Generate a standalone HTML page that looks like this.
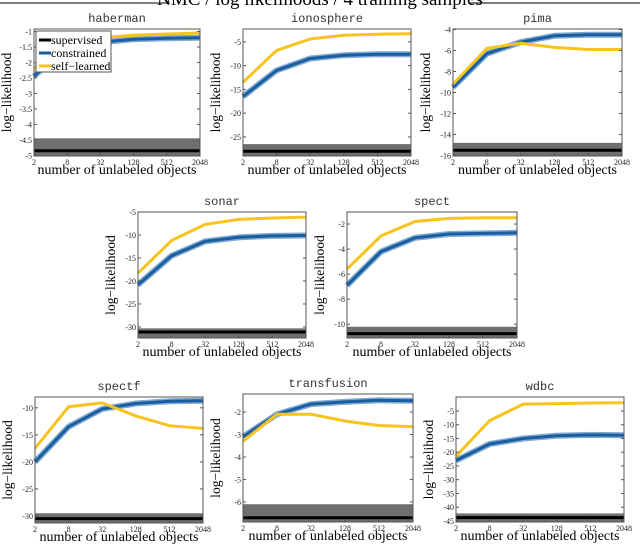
<!DOCTYPE html>
<html><head><meta charset="utf-8"><style>
body{margin:0;background:#fff;}
svg text{font-family:"Liberation Serif",serif;}
</style></head><body>
<svg id="fig" width="640" height="544" xmlns="http://www.w3.org/2000/svg">
<line x1="0" y1="3" x2="170" y2="3" stroke="#000" stroke-width="1"/>
<line x1="470" y1="3" x2="640" y2="3" stroke="#000" stroke-width="1"/>
<text x="320" y="5" font-size="19" text-anchor="middle">NMC / log likelihoods / 4 training samples</text>
</svg>
<script>
const xCats = [2, 8, 32, 128, 512, 2048];
const names = ["haberman","ionosphere","pima","sonar","spect","spectf","transfusion","wdbc"];
const supervised = [-4.85, -28, -15.5, -31.1, -10.75, -30.5, -6.7, -43.8];
const supBandTop = [-4.45, -26.5, -14.8, -30.3, -10.2, -29.5, -6.1, -42.3];
const constrained = [
 [-2.45,-1.45,-1.35,-1.25,-1.22,-1.2],
 [-16.5,-11,-8.5,-7.8,-7.6,-7.6],
 [-9.5,-6.3,-5.2,-4.6,-4.5,-4.5],
 [-20.8,-14.5,-11.4,-10.5,-10.2,-10.1],
 [-6.9,-4.2,-3.1,-2.8,-2.75,-2.7],
 [-20,-13.5,-10.2,-9.2,-8.8,-8.7],
 [-3.1,-2.1,-1.65,-1.55,-1.48,-1.5],
 [-23,-17,-15,-14,-13.7,-13.8]];
const selfLearned = [
 [-2.2,-1.3,-1.2,-1.12,-1.08,-1.05],
 [-13.5,-6.8,-4.4,-3.6,-3.4,-3.3],
 [-9.2,-5.8,-5.3,-5.7,-5.9,-5.9],
 [-18.3,-11.2,-7.7,-6.6,-6.3,-6.1],
 [-5.6,-2.95,-1.8,-1.55,-1.5,-1.5],
 [-17.5,-9.8,-9.1,-11.5,-13.3,-13.8],
 [-3.3,-2.1,-2.1,-2.4,-2.6,-2.65],
 [-21.5,-8.5,-2.5,-2.3,-2.1,-2]];
const yTicks = [
 ["-1","-1.5","-2","-2.5","-3","-3.5","-4","-4.5","-5"],
 ["-5","-10","-15","-20","-25"],
 ["-4","-6","-8","-10","-12","-14","-16"],
 ["-5","-10","-15","-20","-25","-30"],
 ["-2","-4","-6","-8","-10"],
 ["-10","-15","-20","-25","-30"],
 ["-2","-3","-4","-5","-6"],
 ["-5","-10","-15","-20","-25","-30","-35","-40","-45"]];
const yMax = [-0.92, -2.3, -3.95, -5, -1.04, -8, -1.2, 0.1];
const yMin = [-5.02, -29, -16.05, -32.4, -11.1, -31.3, -6.89, -45.4];
// panel boxes [x0,y0,x1,y1]
const boxes = [[34,29,200,156],[243,29,411,156],[453,29,622,156],[138,212,306,338],[347,212,517,338],[35,397,203,523],[243,394,413,522],[456,397,624,522]];
const NS="http://www.w3.org/2000/svg";
const svg=document.getElementById('fig');
function mk(tag,attrs,parent){const e=document.createElementNS(NS,tag);for(const k in attrs)e.setAttribute(k,attrs[k]);(parent||svg).appendChild(e);return e;}
names.forEach((nm,i)=>{
 const [x0,y0,x1,y1]=boxes[i];
 const g=mk('g',{});
 
 
 const sx=v=>x0+(Math.log(v/2)/Math.log(4))/5*(x1-x0);
 const sy=v=>y0+(yMax[i]-v)/(yMax[i]-yMin[i])*(y1-y0);
 const band=mk('rect',{x:x0,y:sy(supBandTop[i]),width:x1-x0,height:y1-sy(supBandTop[i]),fill:'#6f6f6f'},g);
 
 
 const sl=mk('line',{x1:x0,x2:x1,y1:sy(supervised[i]),y2:sy(supervised[i]),stroke:'#000','stroke-width':3},g);
 
 
 const pts=arr=>arr.map((v,j)=>sx(xCats[j]).toFixed(1)+','+sy(v).toFixed(1)).join(' ');
 const cb=mk('polyline',{points:pts(constrained[i]),fill:'none',stroke:'#7fa9d4','stroke-width':6,'stroke-linejoin':'round'},g);
 
 
 const cl=mk('polyline',{points:pts(constrained[i]),fill:'none',stroke:'#1a5e9f','stroke-width':3},g);
 
 
 const yl=mk('polyline',{points:pts(selfLearned[i]),fill:'none',stroke:'#f7c31c','stroke-width':3},g);
 
 
 const fr=mk('rect',{x:x0,y:y0,width:x1-x0,height:y1-y0,fill:'none',stroke:'#555','stroke-width':1},g);
 
 
 yTicks[i].forEach(t=>{
  const y=sy(parseFloat(t));
  mk('line',{x1:x0,x2:x0+3,y1:y,y2:y,stroke:'#555'},g);
  mk('line',{x1:x1-3,x2:x1,y1:y,y2:y,stroke:'#555'},g);
  const tt=mk('text',{x:x0-2,y:y+3,'font-size':8,'text-anchor':'end',fill:'#222'},g);
  tt.textContent=t;
  
  
 });
 xCats.forEach(c=>{
  const x=sx(c);
  mk('line',{x1:x,x2:x,y1:y1,y2:y1-3,stroke:'#555'},g);
  const tt=mk('text',{x:x,y:y1+9,'font-size':8,'text-anchor':'middle',fill:'#222'},g);
  tt.textContent=c;
  
  
 });
 const ti=mk('text',{x:(x0+x1)/2,y:y0-7,'font-size':12,'text-anchor':'middle',fill:'#333',style:'font-family:"Liberation Mono",monospace'},g);
 ti.textContent=nm;
 
 
 const xt=mk('text',{x:(x0+x1)/2,y:y1+18,'font-size':14,'text-anchor':'middle'},g);
 xt.textContent='number of unlabeled objects';
 
 
 const yc=(y0+y1)/2, xc=x0-23;
 const yt=mk('text',{x:xc,y:yc,'font-size':13.5,'text-anchor':'middle',transform:`rotate(-90 ${xc} ${yc})`},g);
 yt.textContent='log\u2212likelihood';
 
 
});
// legend in haberman
const lg=mk('g',{});


mk('rect',{x:36,y:31,width:75,height:41,fill:'#fff',stroke:'#555'},lg);
const legLabels=["supervised","constrained","self\u2212learned"];
const legColors=["#000","#1a5e9f","#f7c31c"];
legLabels.forEach((l,k)=>{
 const y=40+k*13;
 mk('line',{x1:39,x2:51,y1:y,y2:y,stroke:legColors[k],'stroke-width':3},lg);
 const t=mk('text',{x:51,y:y+4,'font-size':12},lg);
 t.textContent=l;
 
 
});
</script>
</body></html>
